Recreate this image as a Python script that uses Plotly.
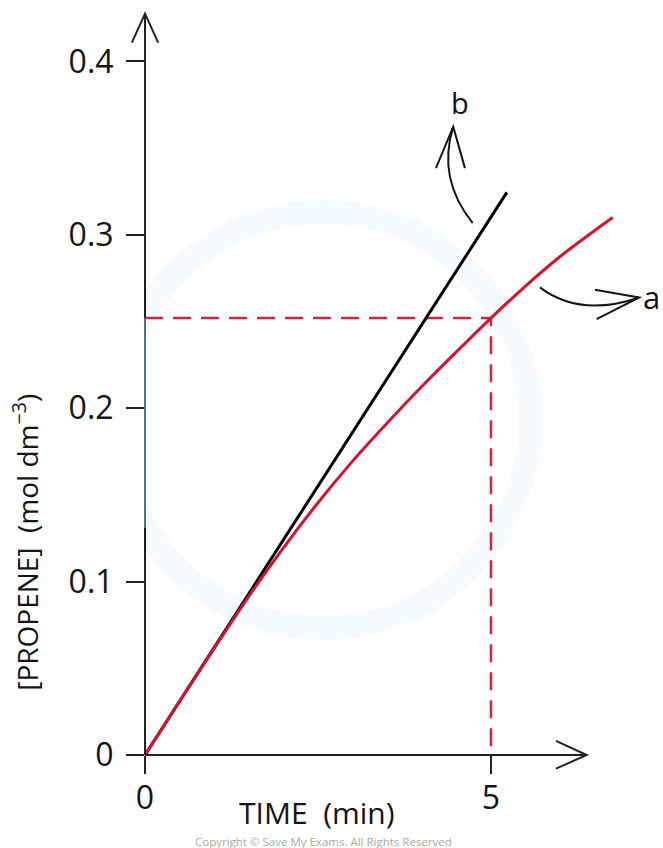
import plotly.graph_objects as go

# Reaction a: measured concentration of propene against time
time_a = [0, 0.5, 1.0, 1.5, 2.0, 2.5, 3.0, 3.5, 4.0, 4.5, 5.0, 5.5, 6.0, 6.5, 6.76]
conc_a = [0, 0.031, 0.0615, 0.0915, 0.1195, 0.1455, 0.1695, 0.1915, 0.2125, 0.2325,
          0.252, 0.2705, 0.2875, 0.3025, 0.310]

# Reaction b: initial-rate straight line
time_b = [0, 5.23]
conc_b = [0, 0.3245]

# Reading taken at t = 5 min
read_time = 5
read_conc = 0.252

x_ticks = [0, 5]
x_tick_text = ["0", "5"]
y_ticks = [0, 0.1, 0.2, 0.3, 0.4]
y_tick_text = ["0", "0.1", "0.2", "0.3", "0.4"]

X_MAX = 7.4
Y_MAX = 0.432
RED = "#d6122f"
INK = "#151515"
FONT = "Open Sans"


def paper_path(points, closed=False):
    """SVG path in paper coordinates from (time, concentration) pairs,
    so decorations are not clipped at the plotting area edge."""
    parts = []
    for i, (t, c) in enumerate(points):
        parts.append(("M" if i == 0 else "L") + f" {t / X_MAX:.5f},{c / Y_MAX:.5f}")
    return " ".join(parts) + (" Z" if closed else "")


def paper_quad(p0, ctrl, p1):
    f = lambda p: f"{p[0] / X_MAX:.5f},{p[1] / Y_MAX:.5f}"
    return f"M {f(p0)} Q {f(ctrl)} {f(p1)}"


fig = go.Figure()

# faint background badge
fig.add_shape(type="circle", xref="x", yref="y",
              x0=2.572 - 3.0, x1=2.572 + 3.0, y0=0.1932 - 0.12, y1=0.1932 + 0.12,
              line=dict(color="#f7fafc", width=24),
              fillcolor="rgba(0,0,0,0)", layer="below")

# dashed guide lines for the reading at t = 5 min
fig.add_trace(go.Scatter(x=[0, read_time, read_time], y=[read_conc, read_conc, 0],
                         mode="lines", line=dict(color="#d4233f", width=2.5, dash="18px,10px"),
                         hoverinfo="skip", showlegend=False))

fig.add_trace(go.Scatter(x=time_b, y=conc_b, mode="lines",
                         line=dict(color="black", width=3),
                         showlegend=False, name="b"))
fig.add_trace(go.Scatter(x=time_a, y=conc_a, mode="lines", line_shape="spline",
                         line=dict(color=RED, width=3),
                         showlegend=False, name="a"))

# axes drawn as arrows
axis_line = dict(color="#222222", width=2)
fig.add_shape(type="path", xref="paper", yref="paper",
              path=paper_path([(0, 0), (6.384, 0)]), line=axis_line)
fig.add_shape(type="path", xref="paper", yref="paper",
              path=paper_path([(0, 0), (0, 0.4276)]), line=axis_line)
fig.add_shape(type="path", xref="paper", yref="paper",
              path=paper_path([(0, read_conc), (0, 0.131)]),
              line=dict(color="#3d7d96", width=2))
fig.add_shape(type="path", xref="paper", yref="paper",
              path=paper_path([(-0.19, 0.4109), (0, 0.4276), (0.19, 0.4109)]),
              line=axis_line)
fig.add_shape(type="path", xref="paper", yref="paper",
              path=paper_path([(5.94, 0.0081), (6.384, 0), (5.94, -0.0079)]),
              line=axis_line)

# curved pointer arrows for the labels
pointer = dict(color=INK, width=2)
fig.add_shape(type="path", xref="paper", yref="paper",
              path=paper_quad((4.736, 0.3068), (4.22, 0.3324), (4.455, 0.3624)), line=pointer)
fig.add_shape(type="path", xref="paper", yref="paper",
              path=paper_path([(4.205, 0.3385), (4.455, 0.3624), (4.624, 0.3385)]), line=pointer)
fig.add_shape(type="path", xref="paper", yref="paper",
              path=paper_quad((5.708, 0.2697), (6.286, 0.2522), (7.143, 0.2639)), line=pointer)
fig.add_shape(type="path", xref="paper", yref="paper",
              path=paper_path([(6.503, 0.2683), (7.143, 0.2639), (6.527, 0.2514)]), line=pointer)

fig.add_annotation(x=4.552, y=0.3762, xref="x", yref="y", text="b", showarrow=False,
                   xanchor="center", yanchor="middle",
                   font=dict(family=FONT, size=29, color=INK))
fig.add_annotation(x=7.17, y=0.2640, xref="x", yref="y", text="a", showarrow=False,
                   xanchor="left", yanchor="middle",
                   font=dict(family=FONT, size=31, color=INK))

# axis titles and footer
fig.add_annotation(x=-0.2324, y=0.2834, xref="paper", yref="paper",
                   text="[PROPENE]  (mol dm<sup>−3</sup>)", textangle=-90, showarrow=False,
                   xanchor="center", yanchor="middle",
                   font=dict(family=FONT, size=28, color=INK))
fig.add_annotation(x=0.336, y=-0.0769, xref="paper", yref="paper",
                   text="TIME  (min)", showarrow=False,
                   xanchor="center", yanchor="middle",
                   font=dict(family=FONT, size=30, color=INK))
fig.add_annotation(x=0.3495, y=-0.1161, xref="paper", yref="paper",
                   text="Copyright © Save My Exams. All Rights Reserved", showarrow=False,
                   xanchor="center", yanchor="middle",
                   font=dict(family=FONT, size=11.5, color="#a8a8a8"))

fig.update_xaxes(range=[0, X_MAX], showgrid=False, zeroline=False, showline=False,
                 tickmode="array", tickvals=x_ticks, ticktext=x_tick_text,
                 ticks="outside", ticklen=18, tickwidth=2, tickcolor="#222222",
                 ticklabelstandoff=-3,
                 tickfont=dict(family=FONT, size=32, color=INK))
fig.update_yaxes(range=[0, Y_MAX], showgrid=False, zeroline=False, showline=False,
                 tickmode="array", tickvals=y_ticks, ticktext=y_tick_text,
                 ticks="outside", ticklen=18, tickwidth=2, tickcolor="#222222",
                 ticklabelstandoff=6,
                 tickfont=dict(family=FONT, size=32, color=INK))

fig.update_layout(width=663, height=848, margin=dict(l=145, r=6, t=6, b=93),
                  plot_bgcolor="white", paper_bgcolor="white", showlegend=False)

fig.write_html("out.html")
